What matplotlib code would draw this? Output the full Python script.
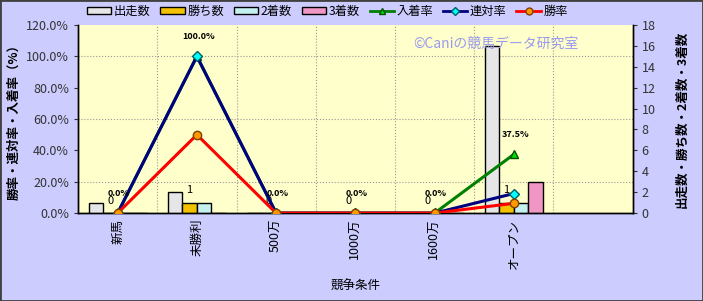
import numpy as np
import matplotlib.pyplot as plt
from matplotlib.lines import Line2D
from matplotlib.patches import Patch, Rectangle

plt.rcParams['font.family'] = ['Noto Sans CJK JP', 'DejaVu Sans']

# ================= データ =================
categories = ['新馬', '未勝利', '500万', '1000万', '1600万', 'オープン', '']
runs = [1, 2, 0, 0, 0, 16]          # 出走数
wins = [0, 1, 0, 0, 0, 1]           # 勝ち数
seconds = [0, 1, 0, 0, 0, 1]        # 2着数
thirds = [0, 0, 0, 0, 0, 3]         # 3着数
place_rate = [0.0, 100.0, 0.0, 0.0, 0.0, 37.5]    # 入着率
quinella_rate = [0.0, 100.0, 0.0, 0.0, 0.0, 12.5] # 連対率
win_rate = [0.0, 50.0, 0.0, 0.0, 0.0, 6.25]       # 勝率

BG = '#CCCCFF'
PLOT_BG = '#FFFFCC'

fig = plt.figure(figsize=(7.03, 3.01), dpi=100, facecolor=BG)
ax = fig.add_axes([0.111, 0.292, 0.789, 0.625])
ax2 = ax.twinx()
ax.set_zorder(ax2.get_zorder() + 1)
ax.patch.set_visible(False)
ax2.patch.set_visible(True)
ax2.set_facecolor(PLOT_BG)

n = len(runs)
x = np.arange(n)
w = 0.183

# ---- 棒グラフ（右軸）----
bar_specs = [(runs, '#E6E6E6', -1.5), (wins, '#F2C200', -0.5),
             (seconds, '#C4F0F0', 0.5), (thirds, '#F096C4', 1.5)]
for vals, col, off in bar_specs:
    ax2.bar(x + off * w, vals, width=w, color=col, edgecolor='black',
            linewidth=1.0, zorder=3)

ax2.set_ylim(0, 18)
ax2.set_yticks(np.arange(0, 19, 2))
ax2.set_yticks(np.arange(0, 19, 3), minor=True)
ax2.xaxis.set_visible(True)
ax2.set_xticks(np.arange(0.5, len(categories) - 1, 1.0), minor=True)
ax2.set_axisbelow(True)
ax2.grid(which='minor', color='#999999', linestyle=':', linewidth=0.8)
ax2.grid(which='major', visible=False)
ax2.tick_params(axis='x', which='both', bottom=False, labelbottom=False,
                top=False, labeltop=False)
ax2.tick_params(axis='y', which='major', labelsize=9, length=3,
                colors='#333333', labelcolor='#333333')
ax2.tick_params(which='minor', length=0)
ax2.set_ylabel('出走数・勝ち数・2着数・3着数', fontsize=9, fontweight='semibold',
               rotation=90, labelpad=14)

# ---- 折れ線（左軸）----
ax.plot(x, place_rate, color='#008000', lw=2.2, marker='^', ms=6,
        mfc='#00E000', mec='#005000', zorder=4)
ax.plot(x, quinella_rate, color='#000080', lw=2.2, marker='D', ms=5,
        mfc='#00FFFF', mec='#006060', zorder=5)
ax.plot(x, win_rate, color='#FF0000', lw=2.2, marker='o', ms=6,
        mfc='#FF9900', mec='#804000', zorder=6)

ax.set_xlim(-0.5, len(categories) - 0.5)
ax.set_ylim(0, 120)
ax.set_yticks(np.arange(0, 121, 20))
ax.set_yticklabels([f'{v:.1f}%' for v in np.arange(0, 121, 20)])
ax.set_xticks(np.arange(len(categories)))
ax.set_xticklabels(categories, rotation=90, va='top', fontsize=9)
ax.tick_params(axis='x', length=0, pad=4)
ax.tick_params(axis='y', labelsize=9, length=3, colors='#333333')
ax.tick_params(which='minor', length=0)
ax.set_ylabel('勝率・連対率・入着率（%）', fontsize=9, fontweight='semibold', labelpad=4)
ax.set_xlabel('競争条件', fontsize=9, labelpad=8)

for a in (ax, ax2):
    a.spines['top'].set_visible(False)
    for s in ('left', 'right', 'bottom'):
        a.spines[s].set_color('black')
        a.spines[s].set_linewidth(1.0)

# ---- データラベル ----
for i in range(n):
    ax.annotate(f'{place_rate[i]:.1f}%', (x[i], place_rate[i]),
                xytext=(1, 11), textcoords='offset points', ha='center',
                va='bottom', fontsize=6.5, fontweight='bold', zorder=8)
    ax2.annotate(f'{wins[i]}', (x[i] - 0.5 * w, wins[i]),
                 xytext=(0, 9), textcoords='offset points', ha='center',
                 va='center', fontsize=8, zorder=8)

# ---- 透かし ----
ax.text(0.753, 0.9, '©Caniの競馬データ研究室', transform=ax.transAxes,
        ha='center', va='center', fontsize=10, color='#9A9AF0', zorder=1)

# ---- 凡例 ----
handles = [Patch(facecolor='#E6E6E6', edgecolor='black', label='出走数'),
           Patch(facecolor='#F2C200', edgecolor='black', label='勝ち数'),
           Patch(facecolor='#C4F0F0', edgecolor='black', label='2着数'),
           Patch(facecolor='#F096C4', edgecolor='black', label='3着数'),
           Line2D([0], [0], color='#008000', lw=2, marker='^', ms=5,
                  mfc='#00E000', mec='#005000', label='入着率'),
           Line2D([0], [0], color='#000080', lw=2, marker='D', ms=4,
                  mfc='#00FFFF', mec='#006060', label='連対率'),
           Line2D([0], [0], color='#FF0000', lw=2, marker='o', ms=5,
                  mfc='#FF9900', mec='#804000', label='勝率')]
fig.legend(handles=handles, loc='upper left', bbox_to_anchor=(0.108, 1.02),
           ncol=7, frameon=False, fontsize=8.8, handlelength=2.0,
           handleheight=0.5, handletextpad=0.2, columnspacing=0.8)

fig.patches.append(Rectangle((0, 0), 1, 1, transform=fig.transFigure,
                             fill=False, edgecolor='#404040', lw=2))

plt.savefig('out.png', dpi=100, facecolor=BG)
